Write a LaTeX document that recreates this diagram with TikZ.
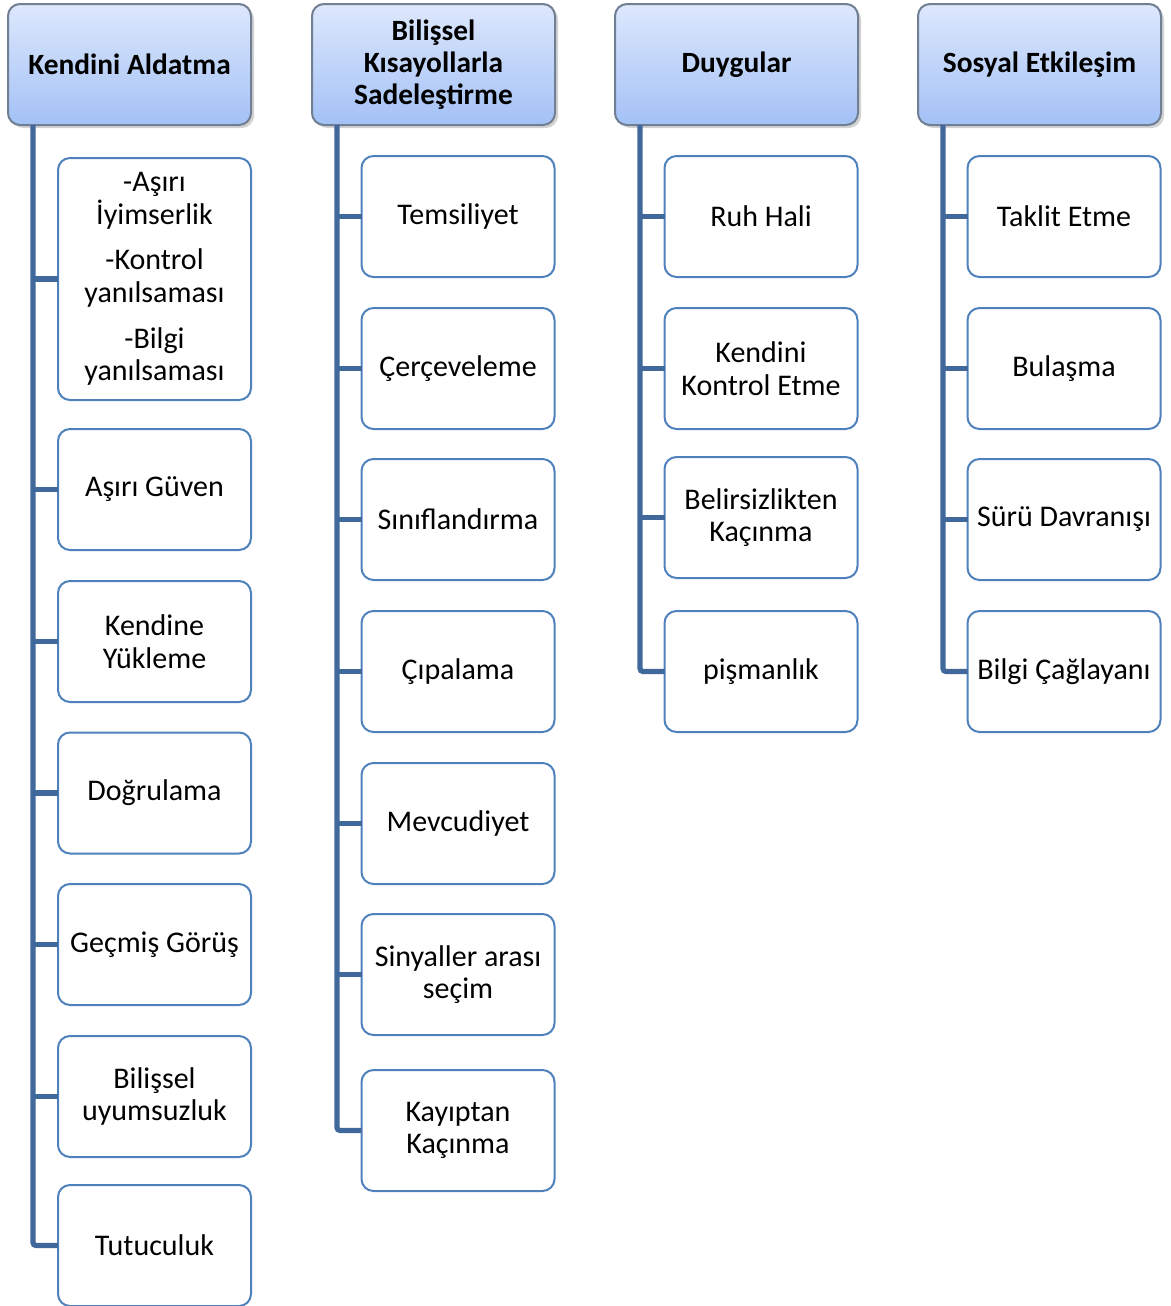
\documentclass[tikz,border=0pt]{standalone}
\usepackage{fontspec}
\setmainfont{Carlito}
\usetikzlibrary{shadows}
\definecolor{kutu}{HTML}{4F81BD}
\definecolor{govde}{HTML}{41689B}
\definecolor{basust}{HTML}{DDE8FC}
\definecolor{basalt}{HTML}{A3C1F6}
\definecolor{baskenar}{HTML}{707F93}
\tikzset{
  baslik/.style={draw=baskenar, line width=1pt, rounded corners=6pt,
    top color=basust, bottom color=basalt,
    drop shadow={shadow xshift=1.5pt, shadow yshift=-1.5pt, opacity=0.35},
    minimum width=121.5pt, minimum height=60.5pt, inner sep=0pt, outer sep=0pt,
    align=center, font=\fontsize{14.7pt}{16pt}\selectfont\bfseries},
  madde/.style={draw=kutu, line width=1pt, rounded corners=6pt, fill=white,
    minimum width=96.5pt, minimum height=60.5pt, inner sep=0pt, outer sep=0pt,
    align=center, font=\fontsize{15pt}{16.3pt}\selectfont},
  govdecizgi/.style={draw=govde, line width=2.6pt, rounded corners=1.5pt}
}
\begin{document}
\begin{tikzpicture}[x=0.5pt,y=-0.5pt]
        \useasboundingbox (0,0) rectangle (1171,1306);

        %%%%%%%% Basliklar %%%%%%%%
        \node[baslik] (h1) at (129.5,64.5) {Kendini Aldatma};
        \node[baslik] (h2) at (433.5,64.5) {Bilişsel\\Kısayollarla\\Sadeleştirme};
        \node[baslik] (h3) at (736.5,64.5) {Duygular};
        \node[baslik] (h4) at (1039.5,64.5) {Sosyal Etkileşim};

        \coordinate (t1) at ([xshift=12.5pt]h1.south west);
        \coordinate (t2) at ([xshift=12.5pt]h2.south west);
        \coordinate (t3) at ([xshift=12.5pt]h3.south west);
        \coordinate (t4) at ([xshift=12.5pt]h4.south west);

        %%%%%%% Kendini Aldatma %%%%%%%
        \node[madde, minimum height=121pt] (a1) at (154.5,279) {-Aşırı\\İyimserlik\\[6.5pt]-Kontrol\\yanılsaması\\[6.5pt]-Bilgi\\yanılsaması};
        \node[madde] (a2) at (154.5,489.5) {Aşırı Güven};
        \node[madde] (a3) at (154.5,641.5) {Kendine\\Yükleme};
        \node[madde] (a4) at (154.5,793) {Doğrulama};
        \node[madde] (a5) at (154.5,944.5) {Geçmiş Görüş};
        \node[madde] (a6) at (154.5,1096.5) {Bilişsel\\uyumsuzluk};
        \node[madde] (a7) at (154.5,1245.5) {Tutuculuk};

        %%%%%%% Bilissel %%%%%%%
        \node[madde] (b1) at (458,216.5) {Temsiliyet};
        \node[madde] (b2) at (458,368.5) {Çerçeveleme};
        \node[madde] (b3) at (458,519.5) {Sınıflandırma};
        \node[madde] (b4) at (458,671.5) {Çıpalama};
        \node[madde] (b5) at (458,823.5) {Mevcudiyet};
        \node[madde] (b6) at (458,974.5) {Sinyaller arası\\seçim};
        \node[madde] (b7) at (458,1130.5) {Kayıptan\\Kaçınma};

        %%%%%%% Duygular %%%%%%%
        \node[madde] (c1) at (761,216.5) {Ruh Hali};
        \node[madde] (c2) at (761,368.5) {Kendini\\Kontrol Etme};
        \node[madde] (c3) at (761,517.5) {Belirsizlikten\\Kaçınma};
        \node[madde] (c4) at (761,671.5) {pişmanlık};

        %%%%%%% Sosyal %%%%%%%
        \node[madde] (d1) at (1064,216.5) {Taklit Etme};
        \node[madde] (d2) at (1064,368.5) {Bulaşma};
        \node[madde] (d3) at (1064,519.5) {Sürü Davranışı};
        \node[madde] (d4) at (1064,671.5) {Bilgi Çağlayanı};

        %%%%%%% Govde %%%%%%%
        \draw[govdecizgi] (t1) |- (a7.west);
        \draw[govdecizgi] (t2) |- (b7.west);
        \draw[govdecizgi] (t3) |- (c4.west);
        \draw[govdecizgi] (t4) |- (d4.west);
        \foreach \k in {1,...,6}
            \draw[govdecizgi] (a\k.west) -- (a\k.west -| t1);
        \foreach \k in {1,...,6}
            \draw[govdecizgi] (b\k.west) -- (b\k.west -| t2);
        \foreach \k in {1,...,3}
            \draw[govdecizgi] (c\k.west) -- (c\k.west -| t3);
        \foreach \k in {1,...,3}
            \draw[govdecizgi] (d\k.west) -- (d\k.west -| t4);
    \end{tikzpicture}
\end{document}
